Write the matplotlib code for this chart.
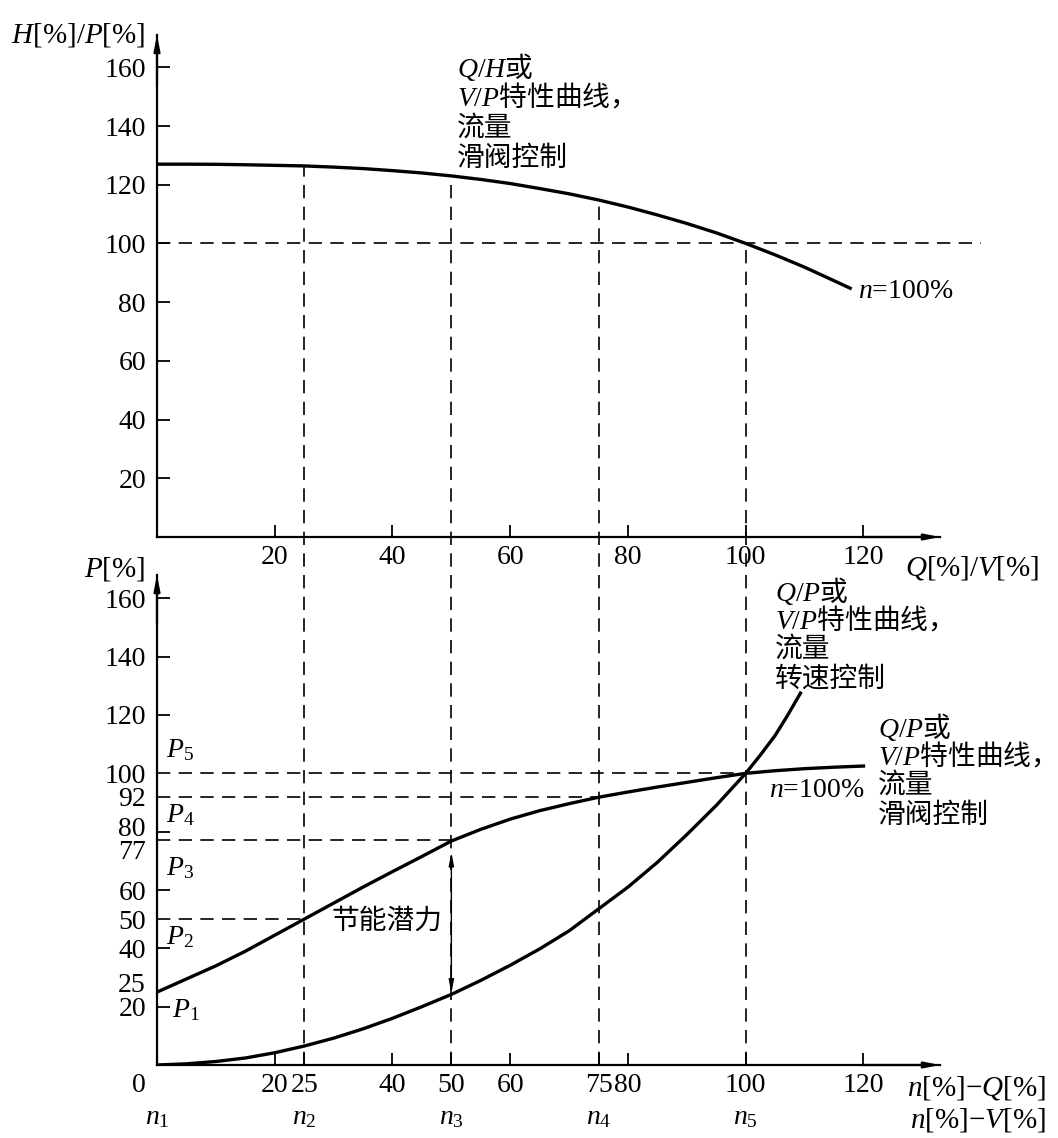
import numpy as np
import matplotlib
matplotlib.use("Agg")
import matplotlib.pyplot as plt

plt.rcParams['font.family'] = ['Liberation Serif', 'Noto Sans CJK SC']
plt.rcParams['mathtext.fontset'] = 'custom'
plt.rcParams['mathtext.rm'] = 'Liberation Serif'
plt.rcParams['mathtext.it'] = 'Liberation Serif:italic'
plt.rcParams['mathtext.sf'] = 'Noto Sans CJK SC'

# top chart: Q/H curve at n=100%
q_top = [0, 5, 10, 15, 20, 25, 30, 35, 40, 45, 50, 55, 60, 65, 70, 75, 80, 85, 90, 95,
         100, 105, 110, 115, 118]
h_top = [127, 127, 126.95, 126.8, 126.6, 126.4, 126.0, 125.5, 124.8, 124.0, 123, 121.8,
         120.4, 118.7, 116.9, 114.8, 112.4, 109.7, 106.8, 103.6, 100, 96.1, 91.9, 87.3, 84.5]

# bottom chart: power, throttle (slide valve) control
q_valve = [0, 5, 10, 15, 20, 25, 30, 35, 40, 45, 50, 55, 60, 65, 70, 75, 80, 85, 90, 95,
           100, 105, 110, 115, 120]
p_valve = [25, 29.5, 34, 39, 44.5, 50, 55.5, 61, 66.3, 71.5, 76.8, 80.8, 84.3, 87.2, 89.6,
           91.8, 93.6, 95.3, 96.9, 98.5, 100, 100.9, 101.6, 102.1, 102.5]

# bottom chart: power, speed control
q_speed = [0, 5, 10, 15, 20, 25, 30, 35, 40, 45, 50, 55, 60, 65, 70, 75, 80, 85, 90, 95,
           100, 102.5, 105, 107, 109.3]
p_speed = [0, 0.4, 1.2, 2.4, 4.2, 6.5, 9.2, 12.4, 16, 20, 24.2, 29, 34.2, 39.8, 46, 53.5,
           61, 69.5, 79, 89, 100, 106.3, 113, 119.5, 127.5]

op_points = [25, 50, 75, 100]          # n2..n5
p_levels = [50, 77, 92, 100]           # P2..P5
top_xticks = [20, 40, 60, 80, 100, 120]
top_yticks = [20, 40, 60, 80, 100, 120, 140, 160]
bot_xticks = [20, 25, 40, 50, 60, 75, 80, 100, 120]
bot_yticks = [20, 25, 40, 50, 60, 77, 80, 92, 100, 120, 140, 160]
shifted_ylabels = {25: 7, 77: -12, 80: 2}   # labels nudged in pixels, as printed

FS = 20
W, H = 1058, 1138
fig = plt.figure(figsize=(W / 100, H / 100), dpi=100)
ax_top = fig.add_axes([157 / W, (H - 537) / H, 783 / W, 502 / H])
ax_bot = fig.add_axes([157 / W, (H - 1065) / H, 783 / W, 490 / H])

ax_top.set_xlim(0, 133)
ax_top.set_ylim(0, 171)
ax_bot.set_xlim(0, 133)
ax_bot.set_ylim(0, 168)

dash = dict(color='black', lw=1.2, linestyle=(0, (8, 5)))

for ax in (ax_top, ax_bot):
    ax.patch.set_visible(False)
    for s in ('top', 'right'):
        ax.spines[s].set_visible(False)
    for s in ('left', 'bottom'):
        ax.spines[s].set_linewidth(1.6)
    ax.tick_params(direction='in', length=9, width=1.3, labelsize=FS, pad=8)
    ax.tick_params(axis='x', pad=6)
    arrow = dict(arrowstyle='-|>,head_length=0.9,head_width=0.18', color='black', lw=1.6,
                 shrinkA=0, shrinkB=0)
    ax.annotate('', xy=(0, 1), xycoords='axes fraction', xytext=(0, 0.9), arrowprops=arrow)
    ax.annotate('', xy=(1, 0), xycoords='axes fraction', xytext=(0.9, 0), arrowprops=arrow)

# ---- top chart
ax_top.set_xticks(top_xticks)
ax_top.set_yticks(top_yticks)
ax_top.plot(q_top, h_top, color='black', lw=2.4, solid_capstyle='butt', zorder=3)
ax_top.plot([0, 140], [100, 100], clip_on=False, **dash)

# operating-point verticals run from the bottom axis up to the Q/H curve
for x in op_points:
    y_hi = np.interp(x, q_top, h_top)
    p0 = ax_bot.transData.transform((x, 0))
    y_lo = ax_top.transData.inverted().transform(p0)[1]
    ax_top.plot([x, x], [y_lo, y_hi], clip_on=False, **dash)


def text_lines(ax, x, y, lines, dy, **kw):
    for i, s in enumerate(lines):
        ax.annotate(s, (x, y), xytext=(0, -i * dy), textcoords='offset points',
                    ha='left', va='center', fontsize=FS, annotation_clip=False, **kw)


text_lines(ax_top, 51, 160, ['$Q/H\\mathsf{或}$', '$V/P\\mathsf{特性曲线，}$', '流量', '滑阀控制'], 22)
ax_top.text(119, 83.5, '$n$=100%', fontsize=FS, ha='left', va='center')
ax_top.text(-2, 171, '$H$[%]/$P$[%]', fontsize=FS + 1, ha='right', va='center', clip_on=False)
ax_top.text(127, -10.5, '$Q$[%]/$V$[%]', fontsize=FS + 1, ha='left', va='center', clip_on=False)

# ---- bottom chart
ax_bot.set_xticks(bot_xticks)
ax_bot.set_yticks(bot_yticks, labels=['' if v in shifted_ylabels else str(v) for v in bot_yticks])
for v, dpx in shifted_ylabels.items():
    ax_bot.annotate(str(v), (0, v), xytext=(-8, dpx * 0.72), textcoords='offset points',
                    ha='right', va='center', fontsize=FS, annotation_clip=False)
for t in ax_bot.xaxis.get_major_ticks():
    if t.get_loc() in op_points:
        t.tick1line.set_visible(False)
for t in ax_bot.yaxis.get_major_ticks():
    if t.get_loc() in [25] + p_levels:
        t.tick1line.set_visible(False)

ax_bot.plot(q_valve, p_valve, color='black', lw=2.4, zorder=3)
ax_bot.plot(q_speed, p_speed, color='black', lw=2.4, zorder=3)

for x, p in zip(op_points, p_levels):
    ax_bot.plot([0, x], [p, p], **dash)

# energy saving potential arrow at n3
head = dict(arrowstyle='-|>,head_length=0.8,head_width=0.15', color='black', lw=1.0,
            shrinkA=0, shrinkB=0)
ax_bot.annotate('', xy=(50, 73), xytext=(50, 49), arrowprops=head)
ax_bot.annotate('', xy=(50, 24.5), xytext=(50, 49), arrowprops=head)
ax_bot.text(39, 49, '节能潜力', fontsize=FS, ha='center', va='center')

text_lines(ax_bot, 105, 162.5, ['$Q/P\\mathsf{或}$', '$V/P\\mathsf{特性曲线，}$', '流量', '转速控制'], 21.2)
text_lines(ax_bot, 122.5, 116, ['$Q/P\\mathsf{或}$', '$V/P\\mathsf{特性曲线，}$', '流量', '滑阀控制'], 21.4)
ax_bot.text(104, 94, '$n$=100%', fontsize=FS, ha='left', va='center')

for i, y in enumerate([18.8, 43.8, 67.5, 85.6, 107.8]):
    ax_bot.text(1.5 if i else 2.5, y, '$P_\\mathrm{%d}$' % (i + 1), fontsize=FS, ha='left', va='center')

for i, x in enumerate([0] + op_points):
    ax_bot.text(x, -18, '$n_\\mathrm{%d}$' % (i + 1), fontsize=FS, ha='center', va='center', clip_on=False)
ax_bot.text(-3, -7, '0', fontsize=FS, ha='center', va='center', clip_on=False)

ax_bot.text(-2, 170, '$P$[%]', fontsize=FS + 1, ha='right', va='center', clip_on=False)
ax_bot.text(151, -7.8, '$n$[%]$-Q$[%]', fontsize=FS + 1, ha='right', va='center', clip_on=False)
ax_bot.text(151, -18.8, '$n$[%]$-V$[%]', fontsize=FS + 1, ha='right', va='center', clip_on=False)

fig.savefig('out.png', dpi=100)
